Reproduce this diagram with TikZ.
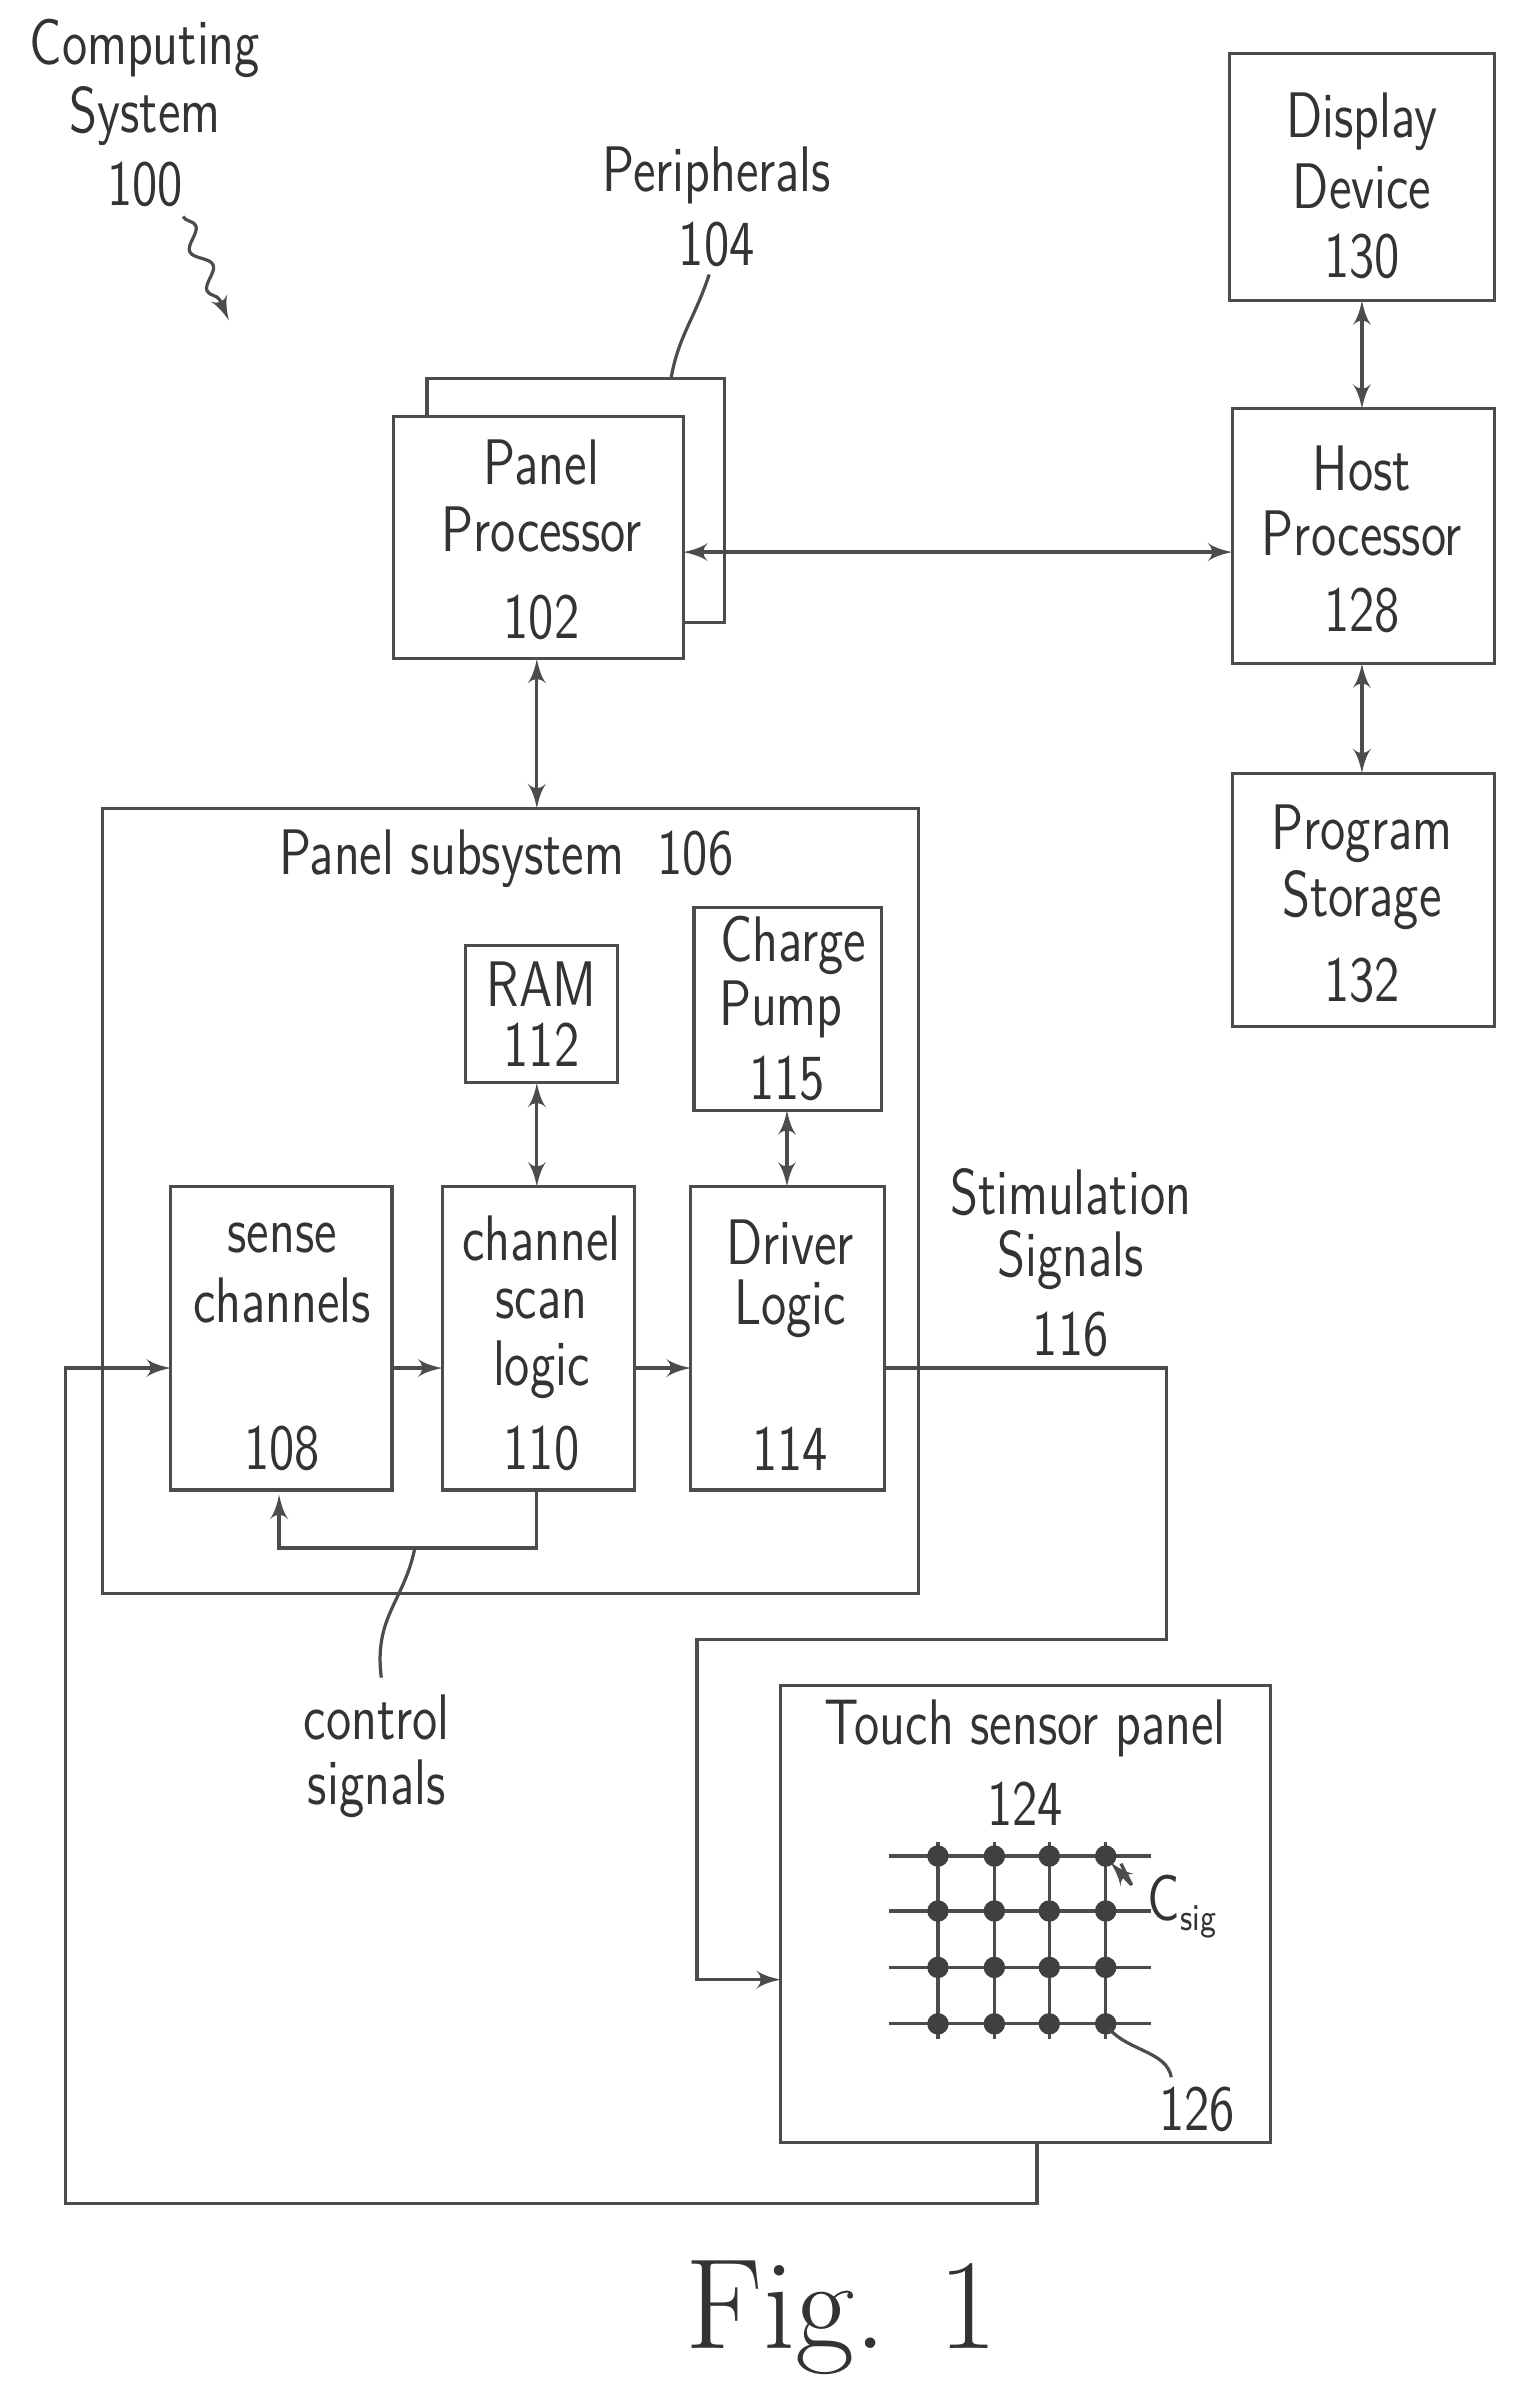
\documentclass[tikz,border=0pt]{standalone}
\usepackage{tikz}
\usetikzlibrary{arrows,positioning,decorations.pathmorphing}
\tikzset{
    blk/.style={draw=black!70, line width=0.6pt},
    lbl/.style={font=\sffamily\fontsize{12}{13}\selectfont, text=black!80, inner sep=0pt, xscale=0.8, transform shape},
    conn/.style={draw=black!70, line width=0.6pt},
    dbl/.style={conn, latex'-latex'},
    sgl/.style={conn, -latex'},
    dot/.style={circle, fill=black!75, inner sep=0pt, minimum size=4pt},
}
\begin{document}
\begin{tikzpicture}[x=0.01cm, y=-0.01cm]
	\useasboundingbox (0,0) rectangle (1000,1573);
	% labels at the top
	\node[lbl] (cs1) at (95,32) {Computing};
	\node[lbl] (cs2) at (95,76) {System};
	\node[lbl] (cs3) at (95,121) {100};
	\draw[conn, -latex', decorate, decoration={snake, amplitude=1.5pt, segment length=8pt, post length=4pt}] (120,142) -- (150,210);
	\node[lbl] (pe1) at (470,115) {Peripherals};
	\node[lbl] (pe2) at (470,160) {104};
	% panel processor
	\draw[blk] (280,248) rectangle (475,408);
	\draw[blk, fill=white] (258,273) rectangle (448,432);
	\node[lbl] at (355,303) {Panel};
	\node[lbl] at (355,347) {Processor};
	\node[lbl] at (355,405) {102};
	\draw[conn] (465,180) .. controls (455,210) and (445,220) .. (440,248);
	% host side
	\draw[blk] (806,35) rectangle (980,197);
	\node[lbl] at (893,80) {Display};
	\node[lbl] at (893,122) {Device};
	\node[lbl] at (893,168) {130};
	\draw[blk] (808,268) rectangle (980,435);
	\node[lbl] at (893,307) {Host};
	\node[lbl] at (893,350) {Processor};
	\node[lbl] at (893,400) {128};
	\draw[blk] (808,507) rectangle (980,673);
	\node[lbl] at (893,547) {Program};
	\node[lbl] at (893,590) {Storage};
	\node[lbl] at (893,643) {132};
	\draw[dbl] (448,362) -- (808,362);
	\draw[dbl] (893,197) -- (893,268);
	\draw[dbl] (893,435) -- (893,507);
	% panel subsystem
	\draw[blk] (67,530) rectangle (602,1045);
	\node[lbl] at (332,563) {Panel subsystem\ \ 106};
	\draw[dbl] (352,432) -- (352,530);
	\draw[blk] (305,620) rectangle (405,710);
	\node[lbl] at (355,645) {RAM};
	\node[lbl] at (355,685) {112};
	\draw[blk] (455,595) rectangle (578,728);
	\node[lbl] at (520,620) {Charge};
	\node[lbl] at (512,662) {Pump};
	\node[lbl] at (516,707) {115};
	\draw[blk] (112,778) rectangle (257,977);
	\node[lbl] at (185,812) {sense};
	\node[lbl] at (185,853) {channels};
	\node[lbl] at (185,950) {108};
	\draw[blk] (290,778) rectangle (416,977);
	\node[lbl] at (355,812) {channel};
	\node[lbl] at (355,855) {scan};
	\node[lbl] at (355,898) {logic};
	\node[lbl] at (355,950) {110};
	\draw[blk] (453,778) rectangle (580,977);
	\node[lbl] at (518,815) {Driver};
	\node[lbl] at (518,858) {Logic};
	\node[lbl] at (518,950) {114};
	\draw[dbl] (352,710) -- (352,778);
	\draw[dbl] (516,728) -- (516,778);
	\draw[sgl] (257,897) -- (290,897);
	\draw[sgl] (416,897) -- (453,897);
	\draw[sgl] (352,977) -- (352,1015) -- (183,1015) -- (183,980);
	\draw[conn] (272,1015) .. controls (265,1050) and (245,1060) .. (250,1100);
	\node[lbl] at (247,1126) {control};
	\node[lbl] at (247,1173) {signals};
	\node[lbl] at (702,782) {Stimulation};
	\node[lbl] at (702,826) {Signals};
	\node[lbl] at (702,875) {116};
	\draw[sgl] (580,897) -- (765,897) -- (765,1075) -- (457,1075) -- (457,1298) -- (512,1298);
	% touch sensor panel
	\draw[blk] (512,1105) rectangle (833,1405);
	\node[lbl] at (672,1133) {Touch sensor panel};
	\node[lbl] at (672,1183) {124};
	\foreach \y in {1217,1253,1290,1327}
		\draw[conn] (583,\y) -- (755,\y);
	\foreach \x in {615,652,688,725} {
		\draw[conn] (\x,1208) -- (\x,1337);
		\foreach \y in {1217,1253,1290,1327}
			\node[dot] at (\x,\y) {};
	}
	\draw[conn, -latex'] (742,1236) -- (728,1221);
	\draw[conn] (735,1222) -- (742,1236);
	\node[lbl] at (775,1250) {C\raisebox{-0.35ex}{\scriptsize sig}};
	\draw[conn] (727,1330) .. controls (740,1345) and (765,1345) .. (768,1362);
	\node[lbl] at (785,1383) {126};
	\draw[sgl] (680,1405) -- (680,1445) -- (43,1445) -- (43,897) -- (112,897);
	\node[font=\fontsize{24}{26}\selectfont, text=black!80] (fig) at (552,1520) {Fig. 1};
\end{tikzpicture}
\end{document}
